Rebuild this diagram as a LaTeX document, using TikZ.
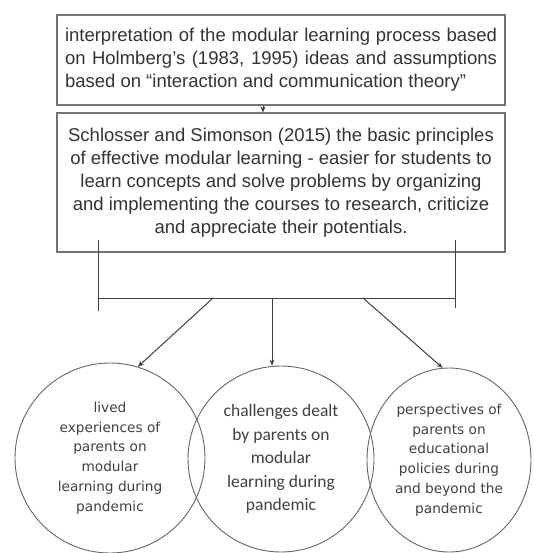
\documentclass[tikz,border=0pt]{standalone}
\usepackage{fontspec}
\setmainfont{Liberation Sans}
\newfontfamily\carlito{Carlito}
\newfontfamily\dejavu{DejaVu Sans}
\usetikzlibrary{arrows.meta,shapes.geometric}

\begin{document}
\begin{tikzpicture}[x=1pt,y=-1pt,
		textbox/.style={draw=black!55, line width=1.1pt, minimum width=448pt, inner sep=0pt, text=black!80, font=\fontsize{18.5}{23}\selectfont},
		bubble/.style={ellipse, draw=black!60, line width=0.9pt, inner sep=0pt, text=black!75, align=center, font=\dejavu\fontsize{13.7}{19.8}\selectfont},
		link/.style={draw=black!75, line width=1pt},
		>={Stealth[length=6pt,width=5pt]}]
		
		\useasboundingbox (0,0) rectangle (534,553);
		
		% Draw theory boxes
		\node[textbox, minimum height=90pt, text width=432pt, align=justify] (interp) at (281,60)
		{interpretation of the modular learning process based\linebreak
			on Holmberg's (1983, 1995) ideas and assumptions\linebreak
			based on ``interaction and communication theory''};
		\node[textbox, minimum height=139pt, align=center] (principles) at (281,182.5)
		{Schlosser and Simonson (2015) the basic principles\\
			of effective modular learning - easier for students to\\
			learn concepts and solve problems by organizing\\
			and implementing the courses to research, criticize\\
			and appreciate their potentials.};
		
		% Draw connection arrow
		\draw[link, ->] ([xshift=-18pt]interp.south) -- ([xshift=-18pt]principles.north);
		
		% Draw bracket
		\coordinate (brL) at (98,298);
		\coordinate (brR) at (455,298);
		\draw[link] (98,240) -- (98,311);
		\draw[link] (455,240) -- (455,308);
		\draw[link] (brL) -- (brR);
		
		% Draw focus circles
		\node[bubble, minimum width=190pt, minimum height=190pt] (lived) at (110,458)
		{lived\\ experiences of\\ parents on\\ modular\\ learning during\\ pandemic};
		\node[bubble, minimum width=186pt, minimum height=186pt, font=\carlito\fontsize{17.5}{23.5}\selectfont] (challenges) at (281,459)
		{challenges dealt\\ by parents on\\ modular\\ learning during\\ pandemic};
		\node[bubble, minimum width=164pt, minimum height=184pt] (perspectives) at (449,460)
		{perspectives of\\ parents on\\ educational\\ policies during\\ and beyond the\\ pandemic};
		
		% Draw outgoing arrows
		\coordinate (outL) at (213,298);
		\coordinate (outM) at (272,298);
		\coordinate (outR) at (363,298);
		\draw[link, ->] (outL) -- (lived.73);
		\draw[link, ->] (outM) -- (outM |- challenges.north);
		\draw[link, ->] (outR) -- (perspectives.94);
		
\end{tikzpicture}
\end{document}
